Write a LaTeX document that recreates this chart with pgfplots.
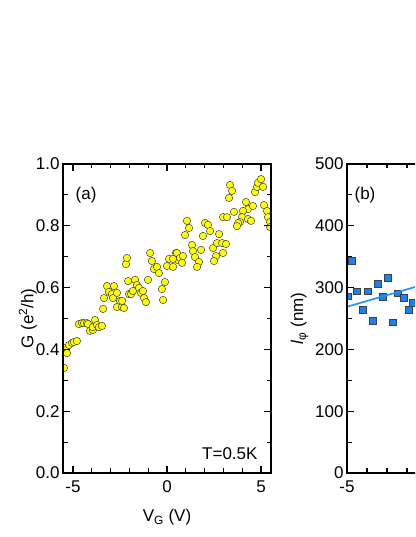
\documentclass[border=0pt]{standalone}
\usepackage{fontspec}
\setmainfont{Liberation Sans}
\usepackage{pgfplots}
\pgfplotsset{compat=1.18}

\definecolor{dotyellow}{RGB}{255,255,0}
\definecolor{sqblue}{RGB}{25,130,240}
\definecolor{lineblue}{RGB}{30,144,255}

\pgfplotsset{
  panel/.style={
    scale only axis,
    height=309pt,
    ymin=0,
    axis line style={line width=1.2pt},
    every tick/.style={black, line width=1.1pt},
    tick align=inside,
    xtick pos=both, ytick pos=both,
    major tick length=7pt,
    minor tick length=4.5pt,
    font=\fontsize{17}{20}\selectfont,
    xticklabel style={yshift=-4pt},
    clip marker paths=true,
    axis on top,
  },
}

\begin{document}
\begin{tikzpicture}
\useasboundingbox (0pt,0pt) rectangle (415pt,537pt);
\clip (0pt,0pt) rectangle (415pt,537pt);

% (a) conductance vs gate voltage
\begin{axis}[panel,
  at={(63pt,64pt)}, anchor=south west,
  width=208pt,
  xmin=-5.53, xmax=5.53, ymax=1,
  xtick={-5,0,5}, xticklabels={-5,0,5},
  minor x tick num=4,
  ytick={0,0.2,0.4,0.6,0.8,1.0},
  yticklabels={0.0,0.2,0.4,0.6,0.8,1.0},
  minor y tick num=1,
  xlabel={V\textsubscript{G} (V)},
  xlabel style={yshift=-10pt},
  ylabel={G (e\textsuperscript{2}/h)},
  ylabel shift=-8pt,
]
\addplot[only marks, mark=*, mark size=3.7pt,
  mark options={fill=dotyellow, draw=black!80, line width=0.45pt}] coordinates {
  (-5.48,0.340) (-5.43,0.405) (-5.37,0.398) (-5.32,0.388) (-5.21,0.414)
  (-5.05,0.421) (-4.95,0.424) (-4.79,0.427)
  (-4.68,0.482) (-4.52,0.485) (-4.41,0.485) (-4.26,0.485) (-4.20,0.482)
  (-4.10,0.460) (-3.94,0.463) (-3.94,0.472) (-3.83,0.495) (-3.72,0.479)
  (-3.62,0.472) (-3.46,0.476)
  (-3.40,0.531) (-3.35,0.566) (-3.19,0.605) (-3.09,0.586) (-2.93,0.579)
  (-2.87,0.566) (-2.82,0.605) (-2.66,0.583) (-2.66,0.537) (-2.50,0.557)
  (-2.39,0.537) (-2.29,0.534) (-2.39,0.557) (-2.07,0.621) (-2.02,0.579)
  (-2.18,0.676) (-2.13,0.696)
  (-1.91,0.579) (-1.81,0.589) (-1.70,0.625) (-1.60,0.608) (-1.49,0.599)
  (-1.38,0.583) (-1.28,0.589) (-1.22,0.566) (-1.12,0.553) (-1.01,0.625)
  (-0.90,0.712) (-0.80,0.686) (-0.69,0.660) (-0.53,0.667) (-0.43,0.647)
  (-0.27,0.595) (-0.21,0.560) (-0.11,0.618) (0.00,0.670) (0.11,0.693)
  (0.32,0.667) (0.48,0.712) (0.59,0.689) (0.32,0.693)
  (0.53,0.712) (0.69,0.696) (0.85,0.702) (0.80,0.680) (1.06,0.816)
  (1.17,0.793) (0.96,0.770) (1.33,0.738) (1.38,0.718) (1.81,0.722)
  (1.49,0.699) (1.70,0.683) (1.60,0.667) (1.91,0.767) (2.02,0.809)
  (2.18,0.803) (2.29,0.783) (2.45,0.728) (2.66,0.744) (2.93,0.744)
  (2.77,0.773) (2.98,0.828) (2.61,0.702) (2.50,0.686) (2.98,0.712)
  (3.14,0.741)
  (3.35,0.932) (3.46,0.913) (3.30,0.890) (3.19,0.828) (3.56,0.845)
  (4.20,0.877) (4.31,0.854) (4.04,0.848) (4.57,0.864) (3.99,0.828)
  (3.88,0.812) (3.78,0.809) (3.72,0.799) (4.31,0.822) (4.47,0.816)
  (4.68,0.909) (4.79,0.926) (4.84,0.939) (5.00,0.951) (5.11,0.926)
  (5.16,0.867) (5.32,0.848) (5.37,0.828) (5.48,0.812) (5.48,0.796)
};
\node[anchor=center] at (axis cs:-4.3,0.9) {(a)};
\node[anchor=east] at (axis cs:5.0,0.062) {T=0.5K};
\end{axis}

% (b) phase coherence length, cut off at the right edge
\begin{axis}[panel,
  at={(347pt,64pt)}, anchor=south west,
  width=210pt,
  xmin=-5, xmax=5.5, ymax=500,
  xtick={-5,0,5}, xticklabels={-5,{},{}},
  minor x tick num=4,
  ytick={0,100,200,300,400,500},
  yticklabels={0,100,200,300,400,500},
  minor y tick num=1,
  ylabel={\textit{l}\textsubscript{φ} (nm)},
]
\addplot[only marks, mark=square*, mark size=3.4pt,
  mark options={fill=sqblue, draw=black!75, line width=0.45pt}] coordinates {
  (-4.95,286) (-4.75,343) (-4.50,294) (-4.20,264) (-3.95,294) (-3.70,246)
  (-3.45,306) (-3.20,285) (-2.95,316) (-2.70,244) (-2.45,291) (-2.15,283)
  (-1.90,264) (-1.70,275)
};
\addplot[lineblue, line width=1.6pt] coordinates {(-5,269) (5,363)};
\node[anchor=center] at (axis cs:-4.1,450) {(b)};
\end{axis}
\end{tikzpicture}
\end{document}
